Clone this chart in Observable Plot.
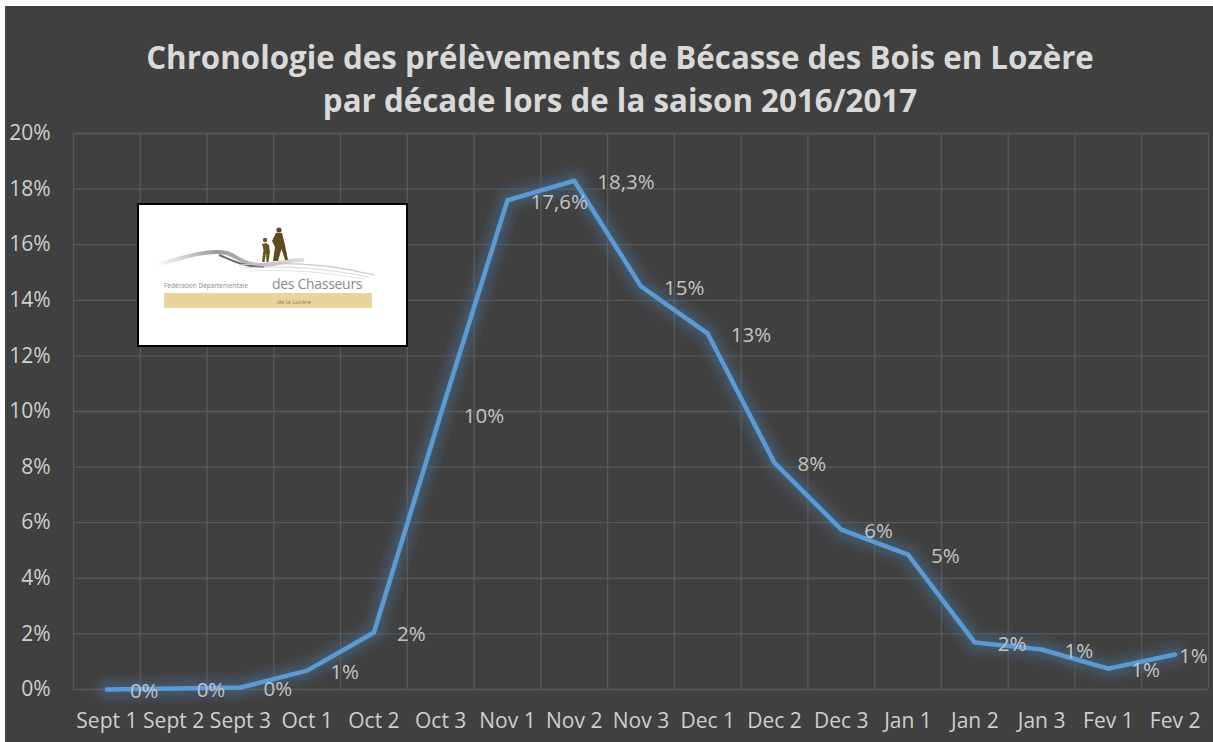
<!DOCTYPE html>
<html><head><meta charset="utf-8">
<script src="https://cdn.jsdelivr.net/npm/d3@7"></script>
<script src="https://cdn.jsdelivr.net/npm/@observablehq/plot@0.6"></script>
<style>
html,body{margin:0;padding:0;background:#ffffff;}
#wrap{position:absolute;left:5px;top:6px;width:1208px;height:736px;background:#404040;overflow:hidden;}
#chart{position:absolute;left:0;top:0;}
#title{position:absolute;left:11px;top:30px;width:100%;text-align:center;color:#d9d9d9;font-family:"Open Sans";font-weight:700;font-size:31.3px;line-height:43px;}
#logo{position:absolute;left:132px;top:197px;width:267px;height:140px;border:2px solid #000;background:#fff;}
</style></head>
<body>
<div id="wrap">
  <div id="chart"></div>
  <div id="title">Chronologie des prélèvements de Bécasse des Bois en Lozère<br>par décade lors de la saison 2016/2017</div>
  <div id="logo">
    <svg width="267" height="140" viewBox="0 0 267 140">
      <defs>
        <linearGradient id="sw" x1="0" x2="1" y1="0" y2="0">
          <stop offset="0" stop-color="#ffffff"/>
          <stop offset="0.4" stop-color="#9a9a9a"/>
          <stop offset="1" stop-color="#e0e0e0"/>
        </linearGradient>
      </defs>
      <path d="M18,60 C45,52 70,44 88,48 C100,52 104,60 122,60 C140,60 150,54 165,55" fill="none" stroke="url(#sw)" stroke-width="4"/>
      <path d="M80,50 C95,56 105,62 125,62" fill="none" stroke="#6a6a6a" stroke-width="2"/>
      <path d="M100,60 C150,56 195,60 235,70" fill="none" stroke="#c8c8c8" stroke-width="1.2"/>
      <path d="M105,63 C150,60 190,64 230,72" fill="none" stroke="#d8d8d8" stroke-width="1"/>
      <path d="M110,66 C150,64 185,67 225,74" fill="none" stroke="#e2e2e2" stroke-width="1"/>
      <circle cx="126" cy="35" r="2.2" fill="#6b5424"/>
      <path d="M123,57 L124.5,45 L123,39 L127,38 L130,40 L131,47 L129.5,57 L127.5,57 L127,48 L125.5,57 Z" fill="#6b5424"/>
      <circle cx="140" cy="25" r="2.6" fill="#5e4a1e"/>
      <path d="M134,56 L136,42 L133,36 L137,28 L143,28 L146,40 L149,55 L146,55 L142.5,44 L139,56 Z" fill="#5e4a1e"/>
      <text x="25" y="83" font-family="Open Sans" font-size="6.5" fill="#8a8a8a">Fédération Départementale</text>
      <text x="133" y="84" font-family="Open Sans" font-size="14" fill="#8a8a8a" letter-spacing="-0.3">des Chasseurs</text>
      <rect x="25" y="88" width="208" height="15" fill="#e8d49c"/>
      <text x="155" y="99" font-family="Open Sans" font-size="6" fill="#8a7a55" text-anchor="middle">de la Lozère</text>
    </svg>
  </div>
</div>
<script>
const categories = ["Sept 1","Sept 2","Sept 3","Oct 1","Oct 2","Oct 3","Nov 1","Nov 2","Nov 3","Dec 1","Dec 2","Dec 3","Jan 1","Jan 2","Jan 3","Fev 1","Fev 2"];
const values = [0.0000, 0.0004, 0.0007, 0.0068, 0.0205, 0.099, 0.176, 0.183, 0.145, 0.128, 0.0815, 0.0575, 0.0485, 0.0169, 0.0144, 0.0075, 0.0126];
const valueLabels = ["0%","0%","0%","1%","2%","10%","17,6%","18,3%","15%","13%","8%","6%","5%","2%","1%","1%","1%"];
const yTicks = [0, 0.02, 0.04, 0.06, 0.08, 0.10, 0.12, 0.14, 0.16, 0.18, 0.20];

const data = categories.map((c, i) => ({i, c, v: values[i], label: valueLabels[i]}));
const xIdx = categories.map((c, i) => i);
const xBounds = categories.map((c, i) => i - 0.5).concat([categories.length - 0.5]);
const n = categories.length;
const blue = "#5b9bd5";

const plot = Plot.plot({
  width: 1208,
  height: 736,
  marginLeft: 68,
  marginRight: 5,
  marginTop: 127,
  marginBottom: 53,
  style: {background: "transparent", color: "#d0d0d0", fontFamily: "Open Sans", overflow: "visible"},
  x: {type: "linear", domain: [-0.5, n - 0.5], axis: null},
  y: {type: "linear", domain: [0, 0.2], axis: null},
  marks: [
    Plot.ruleY(yTicks, {y: d => d, stroke: "#595959", strokeWidth: 1.3}),
    Plot.ruleX(xBounds, {x: d => d, stroke: "#595959", strokeWidth: 1.3}),
    Plot.axisY(yTicks, {label: null, tickFormat: d => Math.round(d * 100) + "%", tickSize: 0, tickPadding: 23, fontSize: 21, fill: "#cfcfcf"}),
    Plot.axisX(xIdx, {label: null, tickFormat: i => categories[i], tickSize: 0, tickPadding: 24, fontSize: 21, fill: "#cfcfcf"}),
    Plot.line(data, {x: "i", y: "v", stroke: "#4a7aa8", strokeWidth: 30, strokeOpacity: 0.08}),
    Plot.line(data, {x: "i", y: "v", stroke: "#4a7aa8", strokeWidth: 23, strokeOpacity: 0.1}),
    Plot.line(data, {x: "i", y: "v", stroke: "#4a7aa8", strokeWidth: 16, strokeOpacity: 0.12}),
    Plot.line(data, {x: "i", y: "v", stroke: "#4a7aa8", strokeWidth: 10, strokeOpacity: 0.12}),
    Plot.line(data, {x: "i", y: "v", stroke: blue, strokeWidth: 4.5}),
    Plot.text(data.slice(0, n - 1), {x: "i", y: "v", text: "label", textAnchor: "start", dx: 23, dy: 2, fill: "#c4c4c4", fontSize: 20.5}),
    Plot.text(data.slice(n - 1), {x: "i", y: "v", text: "label", textAnchor: "start", dx: 4, dy: 2, fill: "#c4c4c4", fontSize: 20.5})
  ]
});
document.getElementById("chart").appendChild(plot);
</script>
</body></html>
